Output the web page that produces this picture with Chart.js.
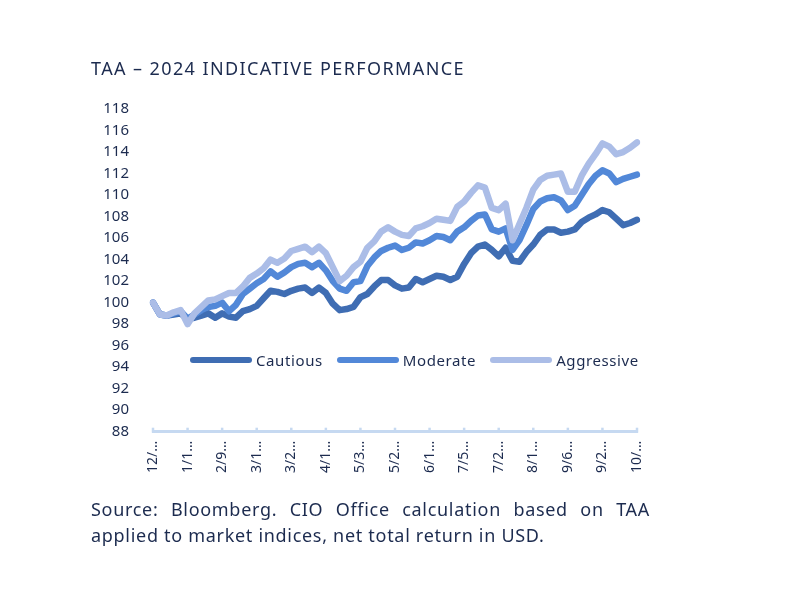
<!DOCTYPE html>
<html>
<head>
<meta charset="utf-8">
<script src="https://cdn.jsdelivr.net/npm/chart.js@4/dist/chart.umd.min.js"></script>
<style>
  body { margin: 0; background: #fff; font-family: "Noto Sans", sans-serif; color: #1c2b4f; }
  .page { position: relative; width: 800px; height: 600px; }
  .title { position: absolute; left: 91px; top: 56px; font-size: 18px; letter-spacing: 1.4px; }
  #chartWrap { position: absolute; left: 0; top: 0; width: 800px; height: 600px; }
  .legend { position: absolute; left: 190px; top: 350px; display: flex; align-items: center; font-size: 15px; letter-spacing: 0.6px; }
  .legend .item { display: flex; align-items: center; margin-right: 14px; }
  .legend .swatch { width: 62px; height: 6px; border-radius: 3px; margin-right: 4px; }
  .note { position: absolute; left: 91px; top: 496px; width: 559px; font-size: 18px; letter-spacing: 0.7px; line-height: 26px; text-align: justify; }
</style>
</head>
<body>
<div class="page">
  <div id="chartWrap"><canvas id="mainChart" width="800" height="600"></canvas></div>
  <div class="title">TAA – 2024 INDICATIVE PERFORMANCE</div>
  <div class="legend" id="legend"></div>
  <div class="note">Source: Bloomberg. CIO Office calculation based on TAA applied to market indices, net total return in USD.</div>
</div>
<script>
// tick dates, every 3 weeks (shown truncated like the original)
const tickDates = ['12/29/2023', '1/19/2024', '2/9/2024', '3/1/2024', '3/22/2024', '4/12/2024', '5/3/2024',
  '5/24/2024', '6/14/2024', '7/5/2024', '7/26/2024', '8/16/2024', '9/6/2024', '9/27/2024', '10/18/2024'];

const cautious = [100.0, 98.9, 98.8, 98.9, 99.0, 98.5, 98.6, 98.8, 99.0, 98.6,
  99.0, 98.7, 98.6, 99.2, 99.4, 99.7, 100.4, 101.1, 101.0, 100.8,
  101.1, 101.3, 101.4, 100.9, 101.4, 100.9, 99.9, 99.3, 99.4, 99.6,
  100.5, 100.8, 101.5, 102.1, 102.1, 101.6, 101.3, 101.4, 102.2, 101.9,
  102.2, 102.5, 102.4, 102.1, 102.4, 103.6, 104.6, 105.2, 105.4, 104.9,
  104.3, 105.1, 103.9, 103.8, 104.7, 105.4, 106.3, 106.8, 106.8, 106.5,
  106.6, 106.8, 107.5, 107.9, 108.2, 108.6, 108.4, 107.8, 107.2, 107.4, 107.7];

const moderate = [100.0, 98.9, 98.8, 99.0, 99.2, 98.5, 98.9, 99.3, 99.6, 99.7,
  100.0, 99.2, 99.8, 100.8, 101.3, 101.8, 102.2, 102.9, 102.4, 102.8,
  103.3, 103.6, 103.7, 103.3, 103.7, 103.0, 102.0, 101.3, 101.1, 101.9,
  102.0, 103.4, 104.2, 104.8, 105.1, 105.3, 104.9, 105.1, 105.6, 105.5,
  105.8, 106.2, 106.1, 105.8, 106.6, 107.0, 107.6, 108.1, 108.2, 106.8,
  106.6, 106.9, 104.9, 105.8, 107.2, 108.7, 109.4, 109.7, 109.8, 109.5,
  108.6, 109.0, 110.0, 111.0, 111.8, 112.3, 112.0, 111.2, 111.5, 111.7, 111.9];

const aggressive = [100.0, 98.9, 98.8, 99.1, 99.3, 98.0, 99.0, 99.6, 100.2, 100.3,
  100.6, 100.9, 100.9, 101.5, 102.3, 102.7, 103.2, 104.0, 103.7, 104.1,
  104.8, 105.0, 105.2, 104.7, 105.2, 104.6, 103.3, 102.0, 102.5, 103.3,
  103.8, 105.1, 105.7, 106.6, 107.0, 106.6, 106.3, 106.2, 106.9, 107.1,
  107.4, 107.8, 107.7, 107.6, 108.9, 109.4, 110.2, 110.9, 110.7, 108.8,
  108.6, 109.2, 105.8, 107.3, 108.8, 110.5, 111.4, 111.8, 111.9, 112.0,
  110.3, 110.3, 111.8, 112.9, 113.8, 114.8, 114.5, 113.8, 114.0, 114.4, 114.9];

const stepsPerTick = 5;
const labels = cautious.map((v, i) => i % stepsPerTick === 0 ? tickDates[i / stepsPerTick] : '');

const textColor = '#1c2b4f';
const axisColor = '#c6d9f1';

// little tick marks standing up from the x axis line
const upTicks = {
  id: 'upTicks',
  afterDatasetsDraw(chart) {
    const x = chart.scales.x;
    const ctx = chart.ctx;
    ctx.save();
    ctx.strokeStyle = axisColor;
    ctx.lineWidth = 2.5;
    x.ticks.forEach((t, i) => {
      const px = x.getPixelForTick(i);
      ctx.beginPath();
      ctx.moveTo(px, x.top - 4);
      ctx.lineTo(px, x.top + 1);
      ctx.stroke();
    });
    ctx.restore();
  }
};

function series(label, data, color, order) {
  return {
    label: label,
    data: data,
    borderColor: color,
    backgroundColor: color,
    borderWidth: 6.5,
    borderJoinStyle: 'round',
    borderCapStyle: 'round',
    pointRadius: 0,
    tension: 0,
    order: order
  };
}

const chart = new Chart(document.getElementById('mainChart').getContext('2d'), {
  type: 'line',
  data: {
    labels: labels,
    datasets: [
      series('Cautious', cautious, '#3f6db3', 3),
      series('Moderate', moderate, '#5288d8', 2),
      series('Aggressive', aggressive, '#abbde7', 1)
    ]
  },
  options: {
    responsive: false,
    animation: false,
    layout: { padding: { left: 96, right: 163, top: 109, bottom: 126 } },
    plugins: { legend: { display: false }, tooltip: { enabled: false } },
    scales: {
      x: {
        offset: false,
        border: { display: true, color: axisColor, width: 3 },
        grid: { display: false },
        ticks: {
          autoSkip: false,
          minRotation: 90,
          maxRotation: 90,
          padding: 1,
          color: textColor,
          font: { family: 'Noto Sans', size: 14 },
          callback: function (v, i) {
            const l = labels[i];
            return l ? l.slice(0, 3) + '…' : null;
          }
        }
      },
      y: {
        min: 88,
        max: 118,
        afterFit: function (scale) { scale.width = 57; },
        border: { display: false },
        grid: { display: false },
        ticks: {
          stepSize: 2,
          autoSkip: false,
          padding: 16,
          color: textColor,
          font: { family: 'Noto Sans', size: 15 }
        }
      }
    }
  },
  plugins: [upTicks]
});

// html legend built from the datasets
const legend = document.getElementById('legend');
chart.data.datasets.forEach((ds) => {
  const item = document.createElement('div');
  item.className = 'item';
  const sw = document.createElement('span');
  sw.className = 'swatch';
  sw.style.background = ds.borderColor;
  const txt = document.createElement('span');
  txt.textContent = ds.label;
  item.appendChild(sw);
  item.appendChild(txt);
  legend.appendChild(item);
});
</script>
</body>
</html>
